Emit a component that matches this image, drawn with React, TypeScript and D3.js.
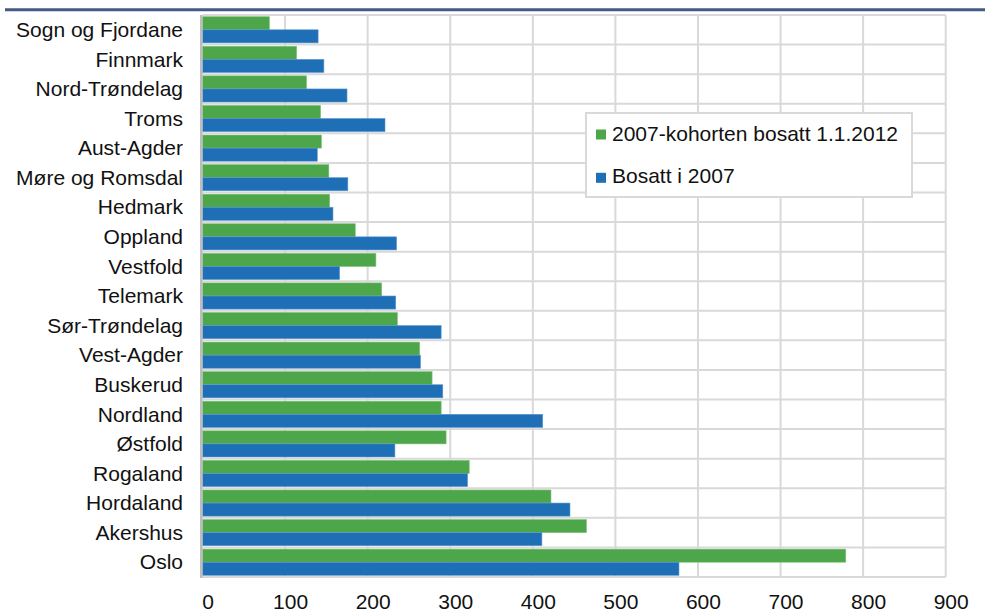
import React from "react";
import * as d3 from "d3";

const categories = [
  "Sogn og Fjordane", "Finnmark", "Nord-Trøndelag", "Troms", "Aust-Agder",
  "Møre og Romsdal", "Hedmark", "Oppland", "Vestfold", "Telemark",
  "Sør-Trøndelag", "Vest-Agder", "Buskerud", "Nordland", "Østfold",
  "Rogaland", "Hordaland", "Akershus", "Oslo",
];
const kohort2012 = [81, 114, 126, 143, 144, 153, 154, 185, 210, 217, 236, 263, 278, 289, 295, 323, 422, 465, 779];
const bosatt2007 = [140, 147, 175, 221, 139, 176, 158, 235, 166, 234, 289, 264, 291, 412, 233, 321, 445, 411, 577];
const seriesNames = ["2007-kohorten bosatt 1.1.2012", "Bosatt i 2007"];
const xTicks = [0, 100, 200, 300, 400, 500, 600, 700, 800, 900];

const W = 985, H = 612;
const FONT = "'Liberation Sans', Arial, sans-serif";
const GREEN = "#4ea64a";
const BLUE = "#1f6fb6";
const GRID = "#d9d9d9";

export default function App() {
  const left = 202.5, right = 945.7, top = 15, bottom = 577;
  const x = d3.scaleLinear().domain([0, 900]).range([left, right]);
  const y = d3.scaleBand<string>().domain(categories).range([top, bottom]).paddingInner(0).paddingOuter(0);
  const sub = d3.scaleBand<number>().domain([0, 1]).range([0, y.bandwidth()]).paddingOuter(0.13).paddingInner(0);
  const series = [kohort2012, bosatt2007];
  const colors = [GREEN, BLUE];
  return (
    <svg width={W} height={H} style={{ position: "absolute", left: 0, top: 0, background: "#fff" }} fontFamily={FONT}>
      <rect x={0} y={0} width={W} height={H} fill="#fff" />
      <line x1={5} x2={985} y1={9.8} y2={9.8} stroke="#435a86" strokeWidth={3} />
      {categories.map((c, i) => (
        <line key={"h" + i} x1={left} x2={right} y1={y(c)!} y2={y(c)!} stroke={GRID} strokeWidth={2} />
      ))}
      <line x1={left} x2={right} y1={bottom} y2={bottom} stroke={GRID} strokeWidth={2} />
      {xTicks.slice(1).map((t) => (
        <line key={"v" + t} x1={x(t)} x2={x(t)} y1={top} y2={bottom} stroke={GRID} strokeWidth={2} />
      ))}
      {categories.map((c, i) =>
        series.map((s, k) => (
          <rect
            key={c + k}
            x={x(0)}
            y={y(c)! + sub(k)!}
            width={x(s[i]) - x(0)}
            height={sub.bandwidth()}
            fill={colors[k]}
            stroke={k === 0 ? "#7dc278" : "#5a97d0"}
            strokeWidth={0.6}
          />
        ))
      )}
      <line x1={201.3} x2={201.3} y1={top} y2={bottom + 1} stroke="#bdbdbd" strokeWidth={2.6} />
      {categories.map((c) => (
        <text key={"l" + c} x={183} y={y(c)! + y.bandwidth() / 2 + 7.2} textAnchor="end" fontSize={21} fill="#111">
          {c}
        </text>
      ))}
      {xTicks.map((t) => (
        <text key={"t" + t} x={x(t) + 5.5} y={608.5} textAnchor="middle" fontSize={21} fill="#111">
          {t}
        </text>
      ))}
      <rect x={586} y={113} width={326} height={84} fill="#fff" stroke={GRID} strokeWidth={2} />
      {seriesNames.map((n, k) => (
        <g key={n}>
          <rect x={596} y={129.5 + k * 43.3} width={10} height={10} fill={colors[k]} />
          <text x={612} y={141 + k * 42} fontSize={21} fill="#111">{n}</text>
        </g>
      ))}
    </svg>
  );
}
